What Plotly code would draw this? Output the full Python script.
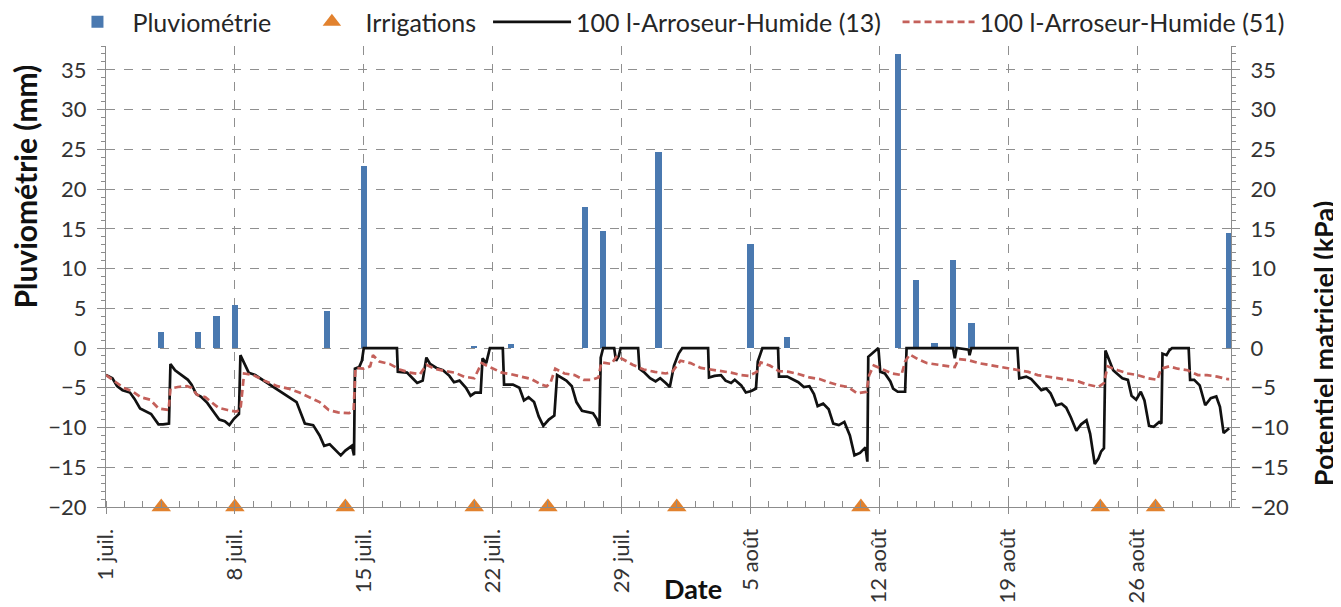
import pandas as pd
import plotly.graph_objects as go

# ---------------- data ----------------
START = pd.Timestamp("2014-07-01")

rain_day = [3, 5, 6, 7, 12, 14, 20, 22, 26, 27, 30, 35, 37, 43, 44, 45, 46, 47, 61]
rain_mm = [2.0, 2.0, 4.0, 5.4, 4.6, 22.9, 0.3, 0.5, 17.7, 14.7, 24.7, 13.1, 1.4,
           37.0, 8.6, 0.6, 11.1, 3.1, 14.5]

irrig_day = [3, 7, 13, 20, 24, 31, 41, 54, 57]
irrig_level = [-20] * len(irrig_day)

s13_day = [0.0, 0.35, 0.6, 0.9, 1.3, 1.55, 1.85, 2.15, 2.45, 2.85, 3.1, 3.42, 3.5, 3.75,
           4.1, 4.45, 4.65, 4.9, 5.15, 5.5, 5.9, 6.15, 6.45, 6.7, 6.95, 7.22, 7.3, 7.5,
           7.75, 8.1, 10.35, 10.8, 11.25, 11.6, 11.85, 12.15, 12.45, 12.75, 13.0, 13.35,
           13.47, 13.52, 13.75, 13.9, 14.0, 15.8, 15.85, 16.35, 16.65, 16.9, 17.2, 17.4,
           17.6, 17.95, 18.3, 18.65, 18.9, 19.2, 19.55, 19.8, 20.05, 20.35, 20.45, 20.65,
           20.85, 21.55, 21.62, 22.1, 22.45, 22.7, 22.95, 23.25, 23.5, 23.75, 24.05,
           24.35, 24.5, 24.75, 25.0, 25.3, 25.55, 25.85, 26.2, 26.45, 26.65, 26.8, 26.87,
           27.0, 27.6, 27.7, 27.85, 27.95, 28.9, 28.97, 29.2, 29.55, 29.85, 30.1, 30.4,
           30.62, 30.85, 31.1, 31.3, 32.7, 32.75, 33.05, 33.4, 33.65, 33.95, 34.15, 34.5,
           34.75, 35.05, 35.3, 35.4, 35.55, 35.65, 36.5, 36.55, 37.0, 37.3, 37.6, 37.9,
           38.2, 38.45, 38.65, 38.95, 39.25, 39.5, 39.8, 40.1, 40.4, 40.65, 40.95, 41.25,
           41.35, 41.4, 41.6, 41.8, 41.95, 42.05, 42.3, 42.6, 42.75, 43.0, 43.4, 43.48,
           46.0, 46.1, 46.2, 46.85, 46.9, 47.0, 49.5, 49.6, 49.98, 50.25, 50.5, 50.8,
           51.07, 51.3, 51.6, 51.9, 52.15, 52.4, 52.7, 52.96, 53.25, 53.45, 53.7, 53.9,
           54.05, 54.2, 54.28, 54.5, 54.7, 54.9, 55.2, 55.5, 55.7, 55.95, 56.2, 56.4,
           56.65, 56.9, 57.2, 57.32, 57.38, 57.6, 57.75, 57.9, 58.8, 58.88, 59.1, 59.4,
           59.7, 60.0, 60.3, 60.5, 60.7, 61.0]
s13_kpa = [-3.4, -3.8, -4.8, -5.3, -5.6, -6.4, -7.6, -7.9, -8.3, -9.6, -9.6, -9.5, -2.0, -2.8,
           -3.4, -4.0, -4.6, -5.8, -6.1, -6.9, -8.2, -9.0, -9.2, -9.7, -8.9, -8.3, -0.9, -1.8,
           -3.1, -3.4, -6.8, -9.5, -9.7, -11.0, -12.3, -12.1, -12.8, -13.5, -12.9, -12.3,
           -13.5, -2.6, -2.4, -1.6, 0.0, 0.0, -3.0, -3.1, -3.8, -4.4, -4.1, -1.2,
           -2.0, -2.5, -2.8, -3.5, -4.3, -4.1, -5.0, -6.0, -5.6, -5.6, -1.3, -1.9,
           0.0, 0.0, -4.6, -4.6, -5.0, -6.6, -6.2, -6.8, -8.6, -9.8, -9.0,
           -8.5, -3.4, -3.8, -4.1, -4.8, -6.8, -7.9, -8.1, -8.2, -8.9, -9.8, -1.2,
           0.0, 0.0, -1.6, -1.0, 0.0, 0.0, -2.6, -3.0, -3.8, -4.2, -3.8, -4.4,
           -4.9, -2.2, -0.7, 0.0, 0.0, -3.7, -3.5, -3.4, -4.1, -4.4, -4.0, -4.7,
           -5.6, -5.4, -5.1, -1.7, -0.5, 0.0, 0.0, -3.6, -3.6, -3.9, -4.3, -4.9,
           -4.8, -5.8, -7.3, -7.0, -7.7, -9.5, -9.7, -9.3, -11.0, -13.5, -13.2, -12.5,
           -14.3, -1.1, -0.7, -0.4, 0.0, -3.0, -3.2, -4.2, -5.1, -5.5, -5.5, 0.0,
           0.0, -1.3, 0.0, -0.2, -0.9, 0.0, 0.0, -3.8, -3.6, -3.9, -4.6, -5.3,
           -5.1, -5.7, -7.2, -7.0, -7.5, -8.7, -10.4, -9.6, -9.1, -10.8, -14.6, -13.9,
           -13.0, -12.6, -0.3, -1.5, -2.8, -3.2, -3.8, -4.0, -6.0, -6.5, -5.5, -6.6,
           -9.8, -9.9, -9.3, -9.5, -0.7, -0.9, -0.3, 0.0, 0.0, -4.0, -4.0, -4.7,
           -7.2, -6.3, -6.1, -7.4, -10.7, -10.1]

s51_day = [0.0, 0.5, 0.95, 1.4, 1.9, 2.4, 2.85, 3.4, 3.5, 3.9, 4.4, 4.65, 4.95, 5.4, 5.8,
           6.1, 6.6, 7.05, 7.3, 7.5, 8.0, 8.6, 9.3, 9.9, 10.5, 11.0, 11.6, 12.1, 12.6, 13.2,
           13.45, 13.55, 14.0, 14.35, 14.5, 14.85, 15.4, 15.95, 16.5, 17.05, 17.4, 17.85,
           18.4, 18.95, 19.45, 20.0, 20.4, 20.95, 21.5, 22.0, 22.6, 23.1, 23.65, 23.95,
           24.15, 24.4, 24.9, 25.45, 25.95, 26.4, 26.75, 26.9, 27.45, 27.75, 28.15, 28.6,
           29.2, 29.8, 30.4, 30.75, 31.2, 31.75, 32.3, 32.85, 33.4, 33.95, 34.5, 34.9,
           35.35, 35.55, 36.05, 36.55, 37.1, 37.65, 38.2, 38.75, 39.25, 39.8, 40.3, 40.8,
           41.3, 41.45, 41.7, 42.1, 42.7, 43.2, 43.4, 43.65, 44.1, 44.6, 45.2, 45.7, 46.1,
           46.3, 46.8, 47.4, 47.9, 48.45, 49.0, 49.5, 50.1, 50.6, 51.2, 51.7, 52.2, 52.8,
           53.3, 53.9, 54.2, 54.4, 54.95, 55.5, 56.0, 56.6, 57.1, 57.3, 57.75, 58.2, 58.75,
           59.3, 59.8, 60.35, 60.9, 61.0]
s51_kpa = [-3.4, -4.2, -5.0, -5.4, -6.2, -6.5, -7.6, -7.8, -5.1, -4.9, -4.8, -5.0, -5.9, -6.2, -7.0,
           -7.5, -7.8, -8.0, -7.8, -3.2, -3.4, -4.1, -4.8, -5.1, -5.6, -6.1, -6.8, -7.8, -8.1, -8.2,
           -7.8, -2.5, -2.6, -2.3, -0.9, -1.7, -2.0, -2.7, -3.1, -3.3, -2.1, -2.6,
           -2.9, -3.1, -3.6, -3.8, -1.9, -2.5, -3.1, -3.3, -3.6, -3.9, -4.6, -4.8,
           -4.3, -2.6, -3.2, -3.4, -4.0, -4.0, -3.7, -1.8, -2.0, -1.0, -1.5, -2.1,
           -2.7, -3.0, -3.2, -3.0, -1.6, -1.9, -2.5, -2.7, -2.9, -3.1, -3.4, -3.5,
           -3.0, -1.8, -2.2, -2.9, -3.0, -3.3, -3.7, -3.9, -4.3, -4.7, -4.9, -5.7,
           -5.5, -3.4, -2.2, -2.6, -3.2, -3.4, -1.7, -0.8, -1.4, -1.9, -2.1, -2.3, -2.4,
           -1.4, -1.5, -1.9, -2.1, -2.4, -2.6, -2.8, -3.0, -3.4, -3.6, -3.8, -4.0, -4.2,
           -4.6, -4.9, -4.4, -2.3, -2.8, -3.2, -3.4, -3.8, -4.0, -2.6, -2.3, -2.6, -2.8,
           -3.4, -3.4, -3.6, -3.9, -3.9]

tick_day = [0, 7, 14, 21, 28, 35, 42, 49, 56]
tick_text = ["1 juil.", "8 juil.", "15 juil.", "22 juil.", "29 juil.",
             "5 août", "12 août", "19 août", "26 août"]

Y_MIN, Y_MAX = -20, 38
X_END_DAY = 61.1


def dates(days):
    return [START + pd.Timedelta(days=d) for d in days]


# ---------------- figure ----------------
# The page body has an 8px margin: the figure is sized so that the
# plotting area lands where the reference has it in the 1341x607 window.
FONT = "Lato"
GRID = "#8f8f8f"
AX = "#8c8c8c"

fig = go.Figure()

fig.add_trace(go.Bar(
    x=dates(rain_day), y=rain_mm, name="Pluviométrie",
    marker=dict(color="#4A79B0", line=dict(width=0)),
    width=0.34 * 86400000, yaxis="y", legend="legend",
))
fig.add_trace(go.Scatter(
    x=dates(irrig_day), y=irrig_level, name="Irrigations", mode="markers",
    marker=dict(symbol="triangle-up", size=17, color="#E2822E"),
    cliponaxis=False, yaxis="y", legend="legend2",
))
fig.add_trace(go.Scatter(
    x=dates(s13_day), y=s13_kpa, name="100 l-Arroseur-Humide (13)", mode="lines",
    line=dict(color="#111111", width=2.7), yaxis="y2", legend="legend3",
))
fig.add_trace(go.Scatter(
    x=dates(s51_day), y=s51_kpa, name="100 l-Arroseur-Humide (51)", mode="lines",
    line=dict(color="#C4605A", width=2.7, dash="7px,4px"), yaxis="y2", legend="legend4",
))

x_range = [START, START + pd.Timedelta(days=X_END_DAY)]
tick_vals = dates(tick_day)

yaxis_common = dict(
    range=[Y_MIN, Y_MAX], tickvals=list(range(-20, 36, 5)),
    showline=True, linecolor=AX, linewidth=1,
    ticks="outside", ticklen=8, tickcolor=AX,
    minor=dict(dtick=1, tick0=0, ticks="outside", ticklen=4, tickcolor=AX, showgrid=False),
    tickfont=dict(family=FONT, size=22, color="#333333"),
    zeroline=False, ticklabelstandoff=6, automargin=False,
)

legend_common = dict(
    orientation="h", y=1.052, xanchor="left", yanchor="middle",
    font=dict(family=FONT, size=25, color="#262626"),
    bgcolor="rgba(0,0,0,0)", borderwidth=0,
)

fig.update_layout(
    width=1333, height=599,
    margin=dict(l=98, r=110, t=38, b=100, autoexpand=False),
    paper_bgcolor="white", plot_bgcolor="white",
    bargap=0,
    showlegend=True,
    legend=dict(**legend_common, x=-0.0387, itemwidth=60),
    legend2=dict(**legend_common, x=0.171, itemwidth=57),
    legend3=dict(**legend_common, x=0.3396, itemwidth=78),
    legend4=dict(**legend_common, x=0.7036, itemwidth=72),
    xaxis=dict(
        type="date", range=x_range,
        tickvals=tick_vals, ticktext=tick_text, tickangle=-90,
        tickfont=dict(family=FONT, size=22, color="#333333"),
        showgrid=True, gridcolor=GRID, griddash="dash", gridwidth=1,
        showline=True, linecolor=AX, linewidth=1,
        ticks="outside", ticklen=6, tickcolor=AX,
        minor=dict(dtick=86400000, tick0=START, ticks="inside", ticklen=6,
                   tickcolor=AX, showgrid=False),
        zeroline=False, automargin=False, ticklabelstandoff=6,
    ),
    xaxis2=dict(
        type="date", range=x_range, overlaying="x", anchor="free",
        position=(0 - Y_MIN) / (Y_MAX - Y_MIN),
        showline=True, linecolor="#000000", linewidth=1.6,
        ticks="outside", ticklen=6, tickcolor="#000000",
        dtick=86400000, tick0=START, showticklabels=False, showgrid=False,
        zeroline=False, automargin=False,
    ),
    yaxis=dict(
        **yaxis_common,
        showgrid=True, gridcolor=GRID, griddash="dash", gridwidth=1,
    ),
    yaxis2=dict(
        **yaxis_common, overlaying="y", side="right", showgrid=False,
    ),
)

# axis titles (positioned as in reference)
fig.add_annotation(
    text="<b>Pluviométrie (mm)</b>", xref="paper", yref="paper",
    x=-0.072, y=0.695, textangle=-90, showarrow=False,
    xanchor="center", yanchor="middle",
    font=dict(family=FONT, size=30, color="#111111"),
)
fig.add_annotation(
    text="<b>Potentiel matriciel (kPa)</b>", xref="paper", yref="paper",
    x=1.0825, y=0.355, textangle=-90, showarrow=False,
    xanchor="center", yanchor="middle",
    font=dict(family=FONT, size=27, color="#111111"),
)
fig.add_annotation(
    text="<b>Date</b>", xref="paper", yref="paper",
    x=0.522, y=-0.176, showarrow=False,
    xanchor="center", yanchor="middle",
    font=dict(family=FONT, size=27, color="#111111"),
)

fig.write_html("out.html")
